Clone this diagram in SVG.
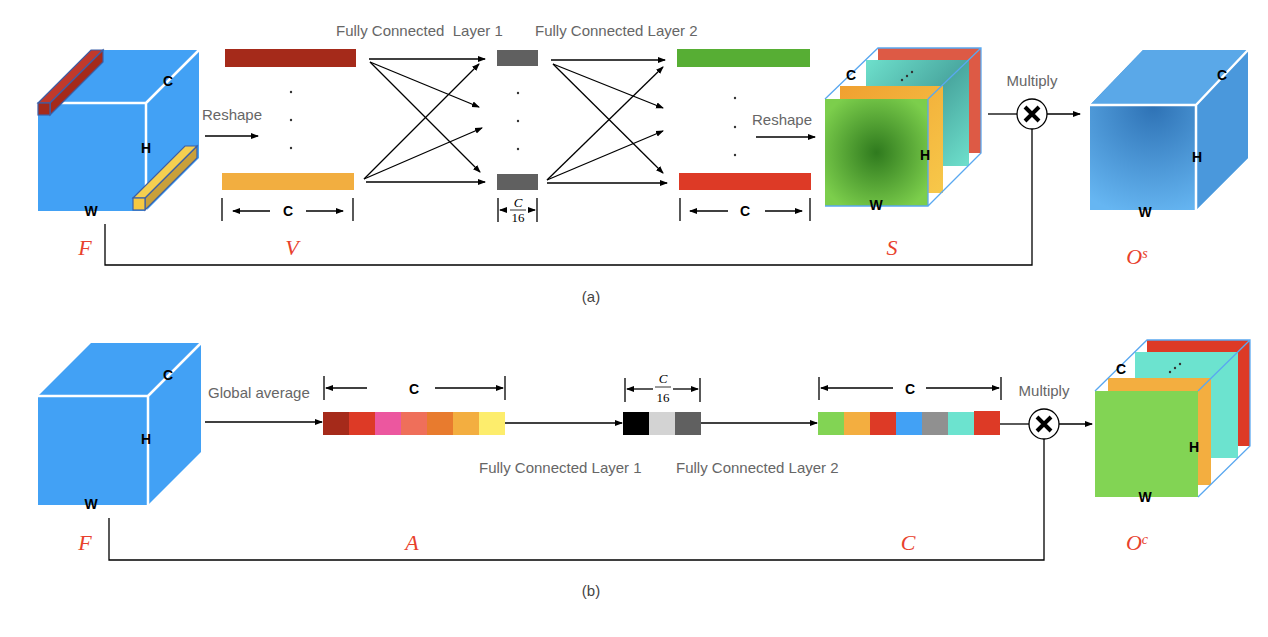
<svg xmlns="http://www.w3.org/2000/svg" width="1268" height="637" viewBox="0 0 1268 637">
<style>
.lbl{font-family:"Liberation Sans",Arial,sans-serif;font-size:15px;fill:#666}
.dim{font-family:"Liberation Sans",Arial,sans-serif;font-size:14px;font-weight:bold;fill:#000}
.var{font-family:"Liberation Serif","Times New Roman",serif;font-style:italic;font-size:22px;fill:#e8412c}
.frac{font-family:"Liberation Serif","Times New Roman",serif;font-size:13px;fill:#000}
.cap{font-family:"Liberation Sans",Arial,sans-serif;font-size:15px;fill:#444}
.ln{stroke:#000;stroke-width:1.3;fill:none}
.wl{stroke:#fff;stroke-width:2.5;fill:none}
.bl{stroke:#5aa8f0;stroke-width:1.3;fill:none}
.dot{fill:#333}
</style>
<defs>
<marker id="ah" markerWidth="8" markerHeight="8" refX="7" refY="4" orient="auto" markerUnits="userSpaceOnUse"><path d="M0,1 L8,4 L0,7z" fill="#000"/></marker>
<radialGradient id="gg" cx="0.5" cy="0.5" r="0.6"><stop offset="0" stop-color="#2f7a1e"/><stop offset="1" stop-color="#7cce4c"/></radialGradient>
<radialGradient id="bg" cx="0.4" cy="0.35" r="0.7"><stop offset="0" stop-color="#2e72b5"/><stop offset="1" stop-color="#66b6f2"/></radialGradient>
<linearGradient id="og" x1="0" y1="0" x2="1" y2="1"><stop offset="0" stop-color="#f0a030"/><stop offset="1" stop-color="#f7c84a"/></linearGradient>
<linearGradient id="tg" x1="0" y1="0" x2="1" y2="1"><stop offset="0" stop-color="#6ee0cc"/><stop offset="0.5" stop-color="#4aa8a0"/><stop offset="1" stop-color="#6ee0cc"/></linearGradient>
</defs>

<g id="a-cubeF">
<polygon points="38,103 91,50 199,50 199,158 146,211 38,211" fill="#42a1f5"/>
<path class="wl" d="M38,103 H146 V211 M146,103 L199,50"/>
<polygon points="38,103 91,50 103,50 50,103" fill="#c0392b" stroke="#3b5fa8" stroke-width="1.2"/>
<polygon points="50,103 103,50 103,62 50,115" fill="#a52a1a" stroke="#3b5fa8" stroke-width="1.2"/>
<rect x="38" y="103" width="12" height="12" fill="#a52a1a" stroke="#3b5fa8" stroke-width="1.2"/>
<polygon points="145,198 197,146 197,158 145,210" fill="#c9a03a" stroke="#3b5fa8" stroke-width="1.2"/>
<polygon points="133,198 185,146 197,146 145,198" fill="#f5cf50" stroke="#3b5fa8" stroke-width="1.2"/>
<rect x="133" y="198" width="12" height="12" fill="#f5c842" stroke="#3b5fa8" stroke-width="1.2"/>
<text class="dim" x="168" y="86" text-anchor="middle">C</text>
<text class="dim" x="146" y="153" text-anchor="middle">H</text>
<text class="dim" x="91" y="216" text-anchor="middle">W</text>
<text class="var" x="85" y="255" text-anchor="middle">F</text>
</g>

<g id="a-V">
<rect x="225" y="49" width="131" height="18" fill="#a52a1a"/>
<rect x="222" y="173" width="132" height="17" fill="#f2ae40"/>
<circle class="dot" cx="291" cy="92" r="1.2"/><circle class="dot" cx="291" cy="120" r="1.2"/><circle class="dot" cx="291" cy="148" r="1.2"/>
<path class="ln" d="M222,198 V221 M353,198 V221"/>
<text class="dim" x="288" y="216" text-anchor="middle">C</text>
<text class="var" x="292" y="255" text-anchor="middle">V</text>
</g>

<g id="a-FC1">
<rect x="497" y="50" width="41" height="16" fill="#606060"/>
<rect x="497" y="174" width="41" height="16" fill="#606060"/>
<circle class="dot" cx="518" cy="93" r="1.2"/><circle class="dot" cx="518" cy="121" r="1.2"/><circle class="dot" cx="518" cy="149" r="1.2"/>
<path class="ln" d="M498,198 V222 M537,198 V222"/>
<text class="frac" x="518" y="207" text-anchor="middle" font-style="italic">C</text>
<line x1="510" y1="210" x2="526" y2="210" stroke="#000" stroke-width="0.8"/>
<text class="frac" x="518" y="222" text-anchor="middle">16</text>
</g>

<g id="a-FC2">
<rect x="677" y="49" width="133" height="18" fill="#57ae34"/>
<rect x="679" y="173" width="132" height="17" fill="#dd3a26"/>
<circle class="dot" cx="735" cy="98" r="1.2"/><circle class="dot" cx="735" cy="127" r="1.2"/><circle class="dot" cx="735" cy="155" r="1.2"/>
<path class="ln" d="M680,198 V221 M810,198 V221"/>
<text class="dim" x="745" y="216" text-anchor="middle">C</text>
</g>

<g id="a-S">
<rect x="878" y="48" width="103" height="105" fill="#dd5a45"/>
<rect x="866" y="60" width="103" height="106" fill="url(#tg)"/>
<rect x="840" y="86" width="103" height="107" fill="url(#og)"/>
<rect x="825" y="99" width="103" height="107" fill="url(#gg)"/>
<path class="bl" d="M825,99 L878,48 H981 V153 L928,206 M928,99 L981,48 M825,206 H928 V99 M928,206 L981,153"/>
<circle class="dot" cx="902" cy="80" r="1.2"/><circle class="dot" cx="907" cy="76" r="1.2"/><circle class="dot" cx="912" cy="72" r="1.2"/>
<text class="dim" x="851" y="80" text-anchor="middle">C</text>
<text class="dim" x="925" y="160" text-anchor="middle">H</text>
<text class="dim" x="876" y="210" text-anchor="middle">W</text>
<text class="var" x="892" y="255" text-anchor="middle">S</text>
</g>

<g id="a-mul">
<circle cx="1032" cy="114" r="15" fill="#fff" stroke="#000" stroke-width="1.3"/>
<path d="M1025,107 L1039,121 M1039,107 L1025,121" stroke="#000" stroke-width="4"/>
<text class="lbl" x="1032" y="86" text-anchor="middle">Multiply</text>
</g>

<g id="a-Os">
<polygon points="1090,105 1143,50 1248,50 1248,158 1196,210 1090,210" fill="url(#bg)"/>
<polygon points="1090,105 1143,50 1248,50 1196,105" fill="#5aa8e8"/>
<polygon points="1196,105 1248,50 1248,158 1196,210" fill="#4a98dc"/>
<path class="wl" d="M1090,105 H1196 V210 M1196,105 L1248,50"/>
<text class="dim" x="1222" y="80" text-anchor="middle">C</text>
<text class="dim" x="1197" y="162" text-anchor="middle">H</text>
<text class="dim" x="1145" y="217" text-anchor="middle">W</text>
<text class="var" x="1137" y="264" text-anchor="middle">O<tspan font-size="14" dy="-6">s</tspan></text>
</g>

<g id="b-cubeF">
<polygon points="38,396 91,343 201,343 201,452 148,505 38,505" fill="#42a1f5"/>
<path class="wl" d="M38,396 H148 V505 M148,396 L201,343"/>
<text class="dim" x="168" y="380" text-anchor="middle">C</text>
<text class="dim" x="146" y="444" text-anchor="middle">H</text>
<text class="dim" x="91" y="509" text-anchor="middle">W</text>
<text class="var" x="85" y="550" text-anchor="middle">F</text>
</g>

<g id="b-A">
<rect x="323" y="412" width="26" height="23" fill="#a52a1a"/>
<rect x="349" y="412" width="26" height="23" fill="#dd3a26"/>
<rect x="375" y="412" width="26" height="23" fill="#ec579f"/>
<rect x="401" y="412" width="26" height="23" fill="#ef6f5a"/>
<rect x="427" y="412" width="26" height="23" fill="#e87b2e"/>
<rect x="453" y="412" width="26" height="23" fill="#f3ae40"/>
<rect x="479" y="412" width="26" height="23" fill="#fded6c"/>
<path class="ln" d="M324,376 V400 M505,376 V400"/>
<text class="dim" x="414" y="394" text-anchor="middle">C</text>
<text class="var" x="412" y="550" text-anchor="middle">A</text>
</g>

<g id="b-FC1">
<rect x="623" y="412" width="26" height="23" fill="#000"/>
<rect x="649" y="412" width="26" height="23" fill="#d3d3d3"/>
<rect x="675" y="412" width="26" height="23" fill="#606060"/>
<path class="ln" d="M625,378 V402 M700,378 V402"/>
<text class="frac" x="663" y="383" text-anchor="middle" font-style="italic">C</text>
<line x1="655" y1="387" x2="671" y2="387" stroke="#000" stroke-width="0.8"/>
<text class="frac" x="663" y="402" text-anchor="middle">16</text>
</g>

<g id="b-C">
<rect x="818" y="412" width="26" height="23" fill="#82d454"/>
<rect x="844" y="412" width="26" height="23" fill="#f3ae40"/>
<rect x="870" y="412" width="26" height="23" fill="#dd3a26"/>
<rect x="896" y="412" width="26" height="23" fill="#42a1f5"/>
<rect x="922" y="412" width="26" height="23" fill="#909090"/>
<rect x="948" y="412" width="26" height="23" fill="#6ce3cf"/>
<rect x="974" y="411" width="26" height="24" fill="#dd3a26"/>
<path class="ln" d="M819,377 V400 M1001,377 V400"/>
<text class="dim" x="910" y="394" text-anchor="middle">C</text>
<text class="var" x="908" y="550" text-anchor="middle">C</text>
</g>

<g id="b-mul">
<circle cx="1044" cy="424" r="15" fill="#fff" stroke="#000" stroke-width="1.3"/>
<path d="M1037,417 L1051,431 M1051,417 L1037,431" stroke="#000" stroke-width="4"/>
<text class="lbl" x="1044" y="396" text-anchor="middle">Multiply</text>
</g>

<g id="b-Oc">
<rect x="1147" y="340" width="103" height="106" fill="#dd3a26"/>
<rect x="1135" y="352" width="103" height="106" fill="#6ce3cf"/>
<rect x="1108" y="378" width="103" height="107" fill="#f3ae40"/>
<rect x="1095" y="391" width="103" height="106" fill="#82d454"/>
<path class="bl" d="M1095,391 L1147,340 H1250 V446 L1198,497 M1198,391 L1250,340"/>
<circle class="dot" cx="1170" cy="372" r="1.2"/><circle class="dot" cx="1175" cy="368" r="1.2"/><circle class="dot" cx="1180" cy="364" r="1.2"/>
<text class="dim" x="1121" y="374" text-anchor="middle">C</text>
<text class="dim" x="1194" y="452" text-anchor="middle">H</text>
<text class="dim" x="1145" y="502" text-anchor="middle">W</text>
<text class="var" x="1137" y="550" text-anchor="middle">O<tspan font-size="14" dy="-6">c</tspan></text>
</g>

<g id="texts">
<text class="lbl" x="202" y="120">Reshape</text>
<text class="lbl" x="752" y="125">Reshape</text>
<text class="lbl" x="336" y="36" xml:space="preserve">Fully Connected  Layer 1</text>
<text class="lbl" x="535" y="36">Fully Connected Layer 2</text>
<text class="lbl" x="208" y="398">Global average</text>
<text class="lbl" x="479" y="473">Fully Connected Layer 1</text>
<text class="lbl" x="676" y="473">Fully Connected Layer 2</text>
<text class="cap" x="591" y="302" text-anchor="middle">(a)</text>
<text class="cap" x="591" y="596" text-anchor="middle">(b)</text>
</g>

<g id="connectors" class="ln" marker-end="url(#ah)">
<line x1="205" y1="136" x2="258" y2="136"/>
<line x1="270" y1="211" x2="233" y2="211"/>
<line x1="306" y1="211" x2="343" y2="211"/>
<line x1="369" y1="59" x2="485" y2="59"/>
<line x1="370" y1="62" x2="479" y2="107"/>
<line x1="370" y1="62" x2="480" y2="172"/>
<line x1="364" y1="179" x2="479" y2="64"/>
<line x1="364" y1="179" x2="482" y2="128"/>
<line x1="366" y1="182" x2="485" y2="182"/>
<line x1="507" y1="210" x2="500" y2="210"/>
<line x1="528" y1="210" x2="535" y2="210"/>
<line x1="551" y1="60" x2="665" y2="60"/>
<line x1="553" y1="64" x2="663" y2="108"/>
<line x1="553" y1="64" x2="663" y2="173"/>
<line x1="547" y1="180" x2="663" y2="67"/>
<line x1="547" y1="180" x2="663" y2="131"/>
<line x1="547" y1="183" x2="667" y2="183"/>
<line x1="756" y1="137" x2="815" y2="137"/>
<line x1="728" y1="211" x2="690" y2="211"/>
<line x1="765" y1="211" x2="802" y2="211"/>
<line x1="1047" y1="114" x2="1080" y2="114"/>
<line x1="205" y1="422" x2="322" y2="422"/>
<line x1="367" y1="388" x2="326" y2="388"/>
<line x1="435" y1="388" x2="503" y2="388"/>
<line x1="505" y1="423" x2="622" y2="423"/>
<line x1="653" y1="389" x2="627" y2="389"/>
<line x1="673" y1="389" x2="698" y2="389"/>
<line x1="701" y1="423" x2="817" y2="423"/>
<line x1="893" y1="388" x2="821" y2="388"/>
<line x1="926" y1="388" x2="999" y2="388"/>
<line x1="1059" y1="424" x2="1092" y2="424"/>
</g>
<g id="connectors-plain" class="ln">
<path d="M988,114 H1017"/>
<path d="M1032,129 V265 H105 V224"/>
<path d="M1000,424 H1029"/>
<path d="M1044,439 V560 H109 V518"/>
</g>
</svg>
